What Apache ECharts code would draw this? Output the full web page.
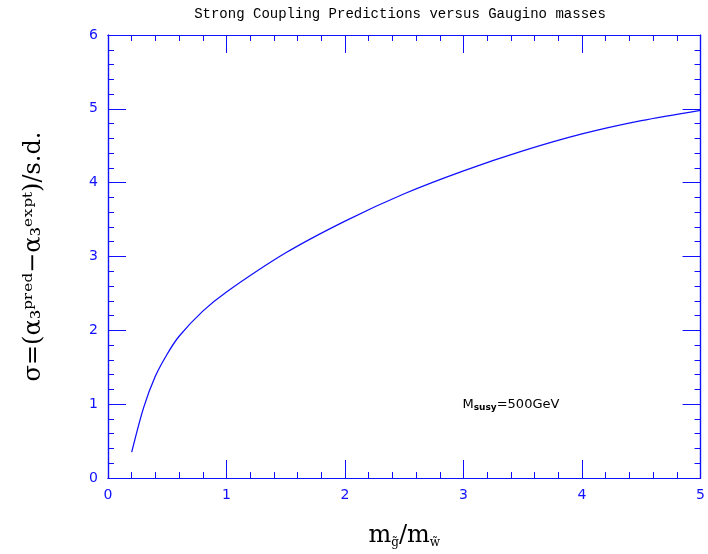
<!DOCTYPE html><html><head><meta charset="utf-8"><script src="https://cdn.jsdelivr.net/npm/echarts@6/dist/echarts.min.js"></script></head><body style="margin:0"><div id="c" style="width:708px;height:554px"></div><script>
const xs=[0.2,0.3,0.4,0.5,0.6,0.8,1,1.5,2,2.5,3,3.5,4,4.5,5];
const ys=[0.35,0.95,1.38,1.68,1.92,2.26,2.52,3.05,3.48,3.85,4.16,4.43,4.66,4.84,4.98];
const blue='#1010ff';
const ch=echarts.init(document.getElementById('c'));
function ax(type,pos,max,interval,len,labels,extra){
 const o={type:'value',min:0,max:max,interval:interval,position:pos,
  axisLine:{show:true,onZero:false,lineStyle:{color:blue,width:1.2}},splitLine:{show:false},
  axisTick:{show:true,inside:true,length:len,lineStyle:{color:blue}},
  axisLabel:labels?{color:blue,fontSize:14,margin:10,fontFamily:'DejaVu Sans'}:{show:false}};
 return Object.assign(o,extra||{});
}
ch.setOption({
 title:{text:'Strong Coupling Predictions versus Gaugino masses',left:395,top:2,textAlign:'center',textStyle:{fontFamily:'Liberation Mono',fontWeight:'normal',fontSize:14,color:'#000'}},
 grid:{left:108,right:5,top:35,bottom:68},
 xAxis:[ax('x','bottom',5,1,18,true,{name:'{a|m}{b|g̃}{a|/m}{b|w̃}',nameLocation:'middle',nameGap:45,
   nameTextStyle:{rich:{a:{fontSize:24,fontFamily:'DejaVu Serif',color:'#000'},b:{fontSize:12,fontFamily:'DejaVu Serif',color:'#000',padding:[14,0,0,0]}}}}),
  ax('x','top',5,1,18,false),ax('x','bottom',5,0.2,6,false),ax('x','top',5,0.2,6,false)],
 yAxis:[ax('y','left',6,1,18,true,{name:'σ=(α₃ᵖʳᵉᵈ−α₃ᵉˣᵖᵗ)/s.d.',nameLocation:'middle',nameGap:62,
   nameTextStyle:{fontSize:24,fontFamily:'DejaVu Serif',color:'#000'}}),
  ax('y','right',6,1,18,false),ax('y','left',6,0.2,6,false),ax('y','right',6,0.2,6,false)],
 series:[{type:'line',data:xs.map((x,i)=>[x,ys[i]]),smooth:0.3,showSymbol:false,lineStyle:{color:blue,width:1.3}}]
});
const p=ch.convertToPixel({xAxisIndex:0,yAxisIndex:0},[3.4,1.0]);
ch.setOption({graphic:[{type:'text',x:p[0],y:p[1],style:{text:'{a|M}{b|susy}{a|=500GeV}',align:'center',verticalAlign:'middle',
 rich:{a:{fontSize:13,fill:'#000',fontFamily:'DejaVu Sans'},b:{fontSize:9,fill:'#000',fontWeight:'bold',fontFamily:'DejaVu Sans',padding:[6,0,0,0]}}}}]});
</script></body></html>
